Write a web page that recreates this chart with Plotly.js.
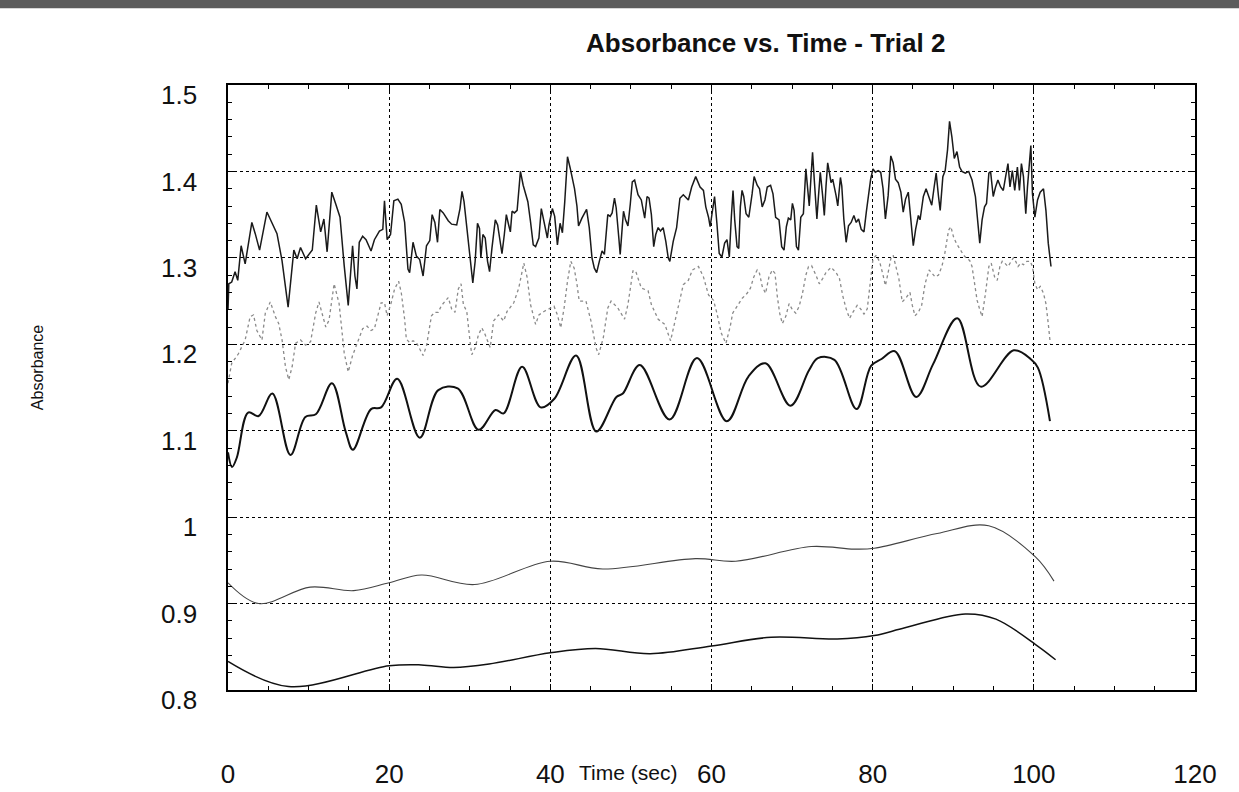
<!DOCTYPE html>
<html>
<head>
<meta charset="utf-8">
<script src="https://cdn.plot.ly/plotly-3.0.1.min.js"></script>
<style>html,body{margin:0;padding:0;background:#fff;}#chart{width:1239px;height:792px;}</style>
</head>
<body>
<div id="chart"></div>
<script>
// ---- Data ----
const chartTitle = "Absorbance vs. Time - Trial 2";
const xTitle = "Time (sec)";
const yTitle = "Absorbance";
const xTickVals = [0, 20, 40, 60, 80, 100, 120];
const xTickText = ["0", "20", "40", "60", "80", "100", "120"];
const yTickVals = [0.8, 0.9, 1.0, 1.1, 1.2, 1.3, 1.4, 1.5];
const yTickText = ["0.8", "0.9", "1", "1.1", "1.2", "1.3", "1.4", "1.5"];

// Series 1: top noisy solid trace
const s1x = [0,0.1,0.46,0.88,1.21,1.63,2.13,2.96,3.38,3.92,4.83,6.08,6.7,7.46,8.17,8.58,9.0,9.63,10.46,10.96,11.5,11.9,12.3,12.88,13.38,13.9,14.42,14.92,15.25,15.46,15.75,16.0,16.29,16.71,17.13,17.75,18.17,18.79,19.21,19.42,19.75,20.17,20.58,21.08,21.5,21.92,22.33,22.54,22.96,23.38,23.79,24.21,24.63,25.04,25.33,25.67,26.0,26.29,26.71,27.33,27.75,28.38,28.79,29.04,29.29,29.63,30.04,30.38,30.67,30.96,31.21,31.38,31.63,31.92,32.21,32.46,32.75,33.17,33.46,33.79,34.0,34.29,34.54,34.83,35.04,35.25,35.54,35.88,36.29,36.63,36.92,37.21,37.54,37.88,38.17,38.58,38.88,39.13,39.42,39.63,39.83,40.25,40.54,40.88,41.21,41.5,41.79,42.13,42.46,42.75,43.0,43.3,43.5,43.92,44.5,44.83,45.17,45.46,45.75,46.08,46.42,46.71,47.13,47.42,47.67,47.96,48.17,48.5,48.67,48.92,49.08,49.33,49.63,49.92,50.17,50.46,50.88,51.29,51.5,51.71,52.0,52.25,52.54,52.83,53.08,53.38,53.67,54.0,54.33,54.63,54.83,55.25,55.67,56.08,56.5,57.13,57.54,58.04,58.58,59.0,59.29,59.63,59.83,60.04,60.38,60.67,60.96,61.29,61.63,61.92,62.21,62.46,62.67,62.88,63.17,63.38,63.58,63.79,64.0,64.29,64.63,65.04,65.29,65.67,65.96,66.29,66.63,66.92,67.33,67.63,67.96,68.38,68.71,69.0,69.29,69.54,69.83,70.04,70.25,70.54,70.79,71.08,71.4,71.71,71.92,72.13,72.33,72.54,72.75,73.08,73.25,73.5,73.79,74.0,74.21,74.42,74.63,74.83,75.04,75.25,75.46,75.67,76.0,76.17,76.42,76.71,77.0,77.33,77.67,77.96,78.25,78.58,78.92,79.21,79.5,79.75,80.04,80.33,80.67,81.0,81.29,81.58,81.92,82.25,82.54,82.83,83.17,83.5,83.79,84.08,84.42,84.75,85.04,85.33,85.67,85.88,86.29,86.63,86.92,87.33,87.63,87.88,88.17,88.38,88.71,89.0,89.29,89.54,89.83,90.13,90.46,90.79,91.08,91.5,91.92,92.33,92.75,93.04,93.29,93.58,93.88,94.13,94.42,94.63,94.96,95.25,95.54,95.88,96.21,96.5,96.79,97.04,97.33,97.63,97.96,98.21,98.46,98.71,99.0,99.21,99.46,99.63,99.83,100.13,100.46,100.79,101.2,101.5,101.79,102.13];
const s1y = [1.24,1.27,1.272,1.284,1.274,1.314,1.293,1.341,1.328,1.309,1.353,1.328,1.297,1.243,1.309,1.299,1.312,1.299,1.309,1.361,1.33,1.345,1.307,1.376,1.362,1.347,1.291,1.245,1.287,1.314,1.279,1.264,1.318,1.325,1.321,1.308,1.321,1.331,1.333,1.366,1.321,1.327,1.366,1.368,1.362,1.341,1.287,1.283,1.318,1.302,1.298,1.279,1.314,1.32,1.35,1.341,1.318,1.356,1.352,1.343,1.339,1.338,1.357,1.377,1.365,1.334,1.296,1.271,1.296,1.34,1.334,1.3,1.327,1.323,1.296,1.284,1.311,1.344,1.338,1.315,1.305,1.327,1.35,1.338,1.33,1.354,1.352,1.355,1.4,1.384,1.373,1.365,1.342,1.315,1.313,1.323,1.357,1.346,1.332,1.323,1.338,1.357,1.348,1.315,1.34,1.329,1.365,1.417,1.404,1.392,1.38,1.36,1.337,1.346,1.356,1.335,1.3,1.288,1.283,1.296,1.308,1.304,1.35,1.348,1.352,1.369,1.358,1.323,1.304,1.335,1.354,1.344,1.337,1.362,1.388,1.39,1.373,1.367,1.358,1.346,1.371,1.369,1.35,1.313,1.327,1.335,1.331,1.335,1.319,1.3,1.296,1.319,1.335,1.369,1.373,1.367,1.382,1.394,1.382,1.378,1.359,1.347,1.336,1.351,1.371,1.34,1.305,1.301,1.317,1.321,1.301,1.347,1.378,1.344,1.313,1.311,1.359,1.378,1.371,1.351,1.347,1.374,1.394,1.384,1.38,1.359,1.367,1.382,1.384,1.374,1.347,1.344,1.313,1.309,1.336,1.346,1.344,1.363,1.355,1.313,1.309,1.347,1.351,1.403,1.38,1.36,1.391,1.422,1.391,1.345,1.368,1.399,1.372,1.349,1.383,1.41,1.399,1.387,1.391,1.383,1.372,1.36,1.393,1.383,1.345,1.318,1.337,1.341,1.349,1.341,1.345,1.333,1.33,1.353,1.372,1.391,1.403,1.399,1.401,1.399,1.38,1.345,1.372,1.418,1.41,1.391,1.387,1.376,1.353,1.368,1.376,1.345,1.314,1.333,1.349,1.344,1.371,1.38,1.371,1.361,1.382,1.398,1.371,1.355,1.394,1.401,1.425,1.458,1.44,1.415,1.423,1.405,1.4,1.398,1.4,1.39,1.371,1.34,1.317,1.344,1.359,1.363,1.398,1.4,1.371,1.382,1.39,1.382,1.378,1.394,1.409,1.382,1.401,1.378,1.405,1.378,1.409,1.394,1.351,1.382,1.413,1.43,1.374,1.347,1.367,1.376,1.38,1.355,1.317,1.29];

// Series 2: dotted grey noisy trace
const s2x = [0,0.46,1.29,2.13,2.75,3.17,3.58,4.21,4.63,5.25,5.88,6.29,6.71,7.13,7.54,7.96,8.38,9.0,9.63,10.25,10.88,11.29,12.13,12.54,13.17,13.79,14.42,14.92,15.46,16.08,16.71,17.25,17.75,18.17,18.58,19.0,19.42,19.75,20.25,20.67,21.17,21.5,21.92,22.13,22.54,22.96,23.38,23.79,24.21,24.63,24.92,25.25,25.67,26.08,26.5,26.92,27.33,27.75,28.17,28.58,28.92,29.21,29.63,30.04,30.25,30.67,31.08,31.5,31.92,32.54,32.96,33.58,34.21,34.63,35.46,36.08,36.71,37.13,37.54,38.17,38.58,39.21,40.04,40.46,40.88,41.29,41.71,42.13,42.54,42.96,43.3,43.58,44.42,45.04,45.67,46.0,46.58,47.13,47.54,48.38,49.21,49.63,50.25,50.58,51.29,52.13,52.54,53.38,54.21,54.92,55.67,56.5,57.13,57.63,58.38,59.0,59.63,60.25,60.67,61.21,61.79,62.33,62.63,63.17,63.79,64.42,64.83,65.25,65.67,65.96,66.29,66.71,67.13,67.54,67.88,68.17,68.46,68.79,69.21,69.63,70.04,70.46,70.88,71.29,71.71,72.04,72.42,72.96,73.38,73.79,74.21,74.83,75.46,75.88,76.29,76.71,77.13,77.54,78.08,78.5,78.92,79.33,79.75,80.04,80.46,80.88,81.29,81.58,81.92,82.25,82.54,82.83,83.25,83.67,84.08,84.63,84.92,85.25,85.67,86.08,86.5,87.0,87.75,88.17,88.58,88.88,89.13,89.42,89.71,90.04,90.38,90.67,90.96,91.29,91.71,92.04,92.33,92.63,92.96,93.29,93.58,94.0,94.42,94.71,95.13,95.46,95.79,96.08,96.38,96.79,97.13,97.46,97.75,98.04,98.38,98.71,99.13,99.54,99.83,100.13,100.46,100.79,101.2,101.5,101.79,102.04];
const s2y = [1.155,1.178,1.189,1.205,1.232,1.234,1.216,1.205,1.236,1.249,1.232,1.224,1.205,1.174,1.159,1.174,1.201,1.205,1.199,1.203,1.236,1.249,1.22,1.228,1.27,1.247,1.19,1.168,1.187,1.202,1.218,1.221,1.216,1.218,1.233,1.248,1.248,1.233,1.248,1.264,1.273,1.26,1.229,1.206,1.202,1.204,1.202,1.195,1.187,1.198,1.214,1.233,1.237,1.237,1.245,1.25,1.254,1.241,1.237,1.264,1.27,1.246,1.238,1.203,1.188,1.196,1.211,1.219,1.211,1.196,1.227,1.234,1.227,1.238,1.248,1.265,1.294,1.277,1.246,1.223,1.234,1.238,1.242,1.244,1.234,1.219,1.242,1.273,1.296,1.288,1.27,1.25,1.25,1.227,1.196,1.188,1.208,1.242,1.25,1.242,1.229,1.246,1.285,1.285,1.265,1.262,1.246,1.229,1.223,1.204,1.235,1.269,1.274,1.286,1.29,1.278,1.257,1.251,1.236,1.213,1.201,1.221,1.236,1.244,1.253,1.259,1.265,1.278,1.286,1.282,1.267,1.259,1.278,1.286,1.282,1.255,1.236,1.224,1.232,1.247,1.24,1.236,1.244,1.259,1.28,1.29,1.291,1.28,1.27,1.276,1.283,1.289,1.283,1.276,1.256,1.241,1.23,1.237,1.245,1.241,1.235,1.241,1.276,1.299,1.303,1.295,1.28,1.268,1.283,1.299,1.303,1.291,1.276,1.249,1.253,1.26,1.245,1.233,1.237,1.245,1.27,1.286,1.278,1.28,1.29,1.301,1.317,1.332,1.336,1.324,1.317,1.313,1.309,1.303,1.299,1.297,1.29,1.27,1.251,1.24,1.232,1.259,1.29,1.294,1.278,1.274,1.29,1.296,1.294,1.29,1.296,1.3,1.296,1.29,1.294,1.292,1.296,1.296,1.29,1.27,1.263,1.267,1.259,1.247,1.224,1.201];

// Series 3: oscillating solid trace
const s3x = [0,0.5,1.1,2.5,3.8,5.5,7.75,9.6,10.9,12.9,14.6,15.5,17.75,19.0,21.0,23.8,26.1,28.5,31.1,33.2,34.2,36.5,38.8,40.5,43.2,45.7,48.2,49.0,51.1,54.8,58.2,61.9,64.6,66.7,69.8,72.1,73.2,75.25,78.0,79.8,81.1,82.75,85.4,87.5,90.5,93.4,97.5,99.6,100.5,102.0];
const s3y = [1.075,1.058,1.069,1.121,1.117,1.143,1.072,1.116,1.119,1.155,1.099,1.078,1.125,1.127,1.16,1.092,1.147,1.149,1.101,1.124,1.12,1.174,1.127,1.137,1.187,1.099,1.139,1.143,1.176,1.113,1.184,1.111,1.163,1.178,1.129,1.17,1.184,1.182,1.125,1.175,1.183,1.192,1.139,1.177,1.23,1.151,1.193,1.183,1.173,1.111];

// Series 4: smooth trace near 0.9-1.0
const s4x = [0,3.8,10.2,15.6,20,24,30.6,40,46.5,58,63,72.4,77.7,80.2,88,94.4,100.2,102.5];
const s4y = [0.924,0.9,0.919,0.915,0.924,0.933,0.922,0.949,0.94,0.952,0.949,0.966,0.963,0.964,0.981,0.99,0.954,0.926];

// Series 5: smooth bottom trace
const s5x = [0,7.5,20,24,28,32.4,40,45.6,52.4,60,67.4,75.6,80.2,84,91.5,95.3,100.6,102.7];
const s5y = [0.833,0.804,0.828,0.829,0.826,0.83,0.843,0.848,0.842,0.851,0.861,0.859,0.863,0.872,0.888,0.882,0.85,0.835];

// ---- Chart ----
const FONT = "Liberation Sans, Arial, Helvetica, sans-serif";
const traces = [
  {x: s1x, y: s1y, mode: "lines", line: {color: "#1a1a1a", width: 1.5}, hoverinfo: "skip"},
  {x: s2x, y: s2y, mode: "lines", line: {color: "#8a8a8a", width: 1.3, dash: "dot"}, hoverinfo: "skip"},
  {x: s3x, y: s3y, mode: "lines", line: {color: "#111", width: 2, shape: "spline", smoothing: 1}, hoverinfo: "skip"},
  {x: s4x, y: s4y, mode: "lines", line: {color: "#444", width: 1.1, shape: "spline", smoothing: 1}, hoverinfo: "skip"},
  {x: s5x, y: s5y, mode: "lines", line: {color: "#111", width: 1.5, shape: "spline", smoothing: 1}, hoverinfo: "skip"}
];

const axisCommon = {
  showline: true, linecolor: "#000", linewidth: 1.6, mirror: "ticks",
  ticks: "inside", ticklen: 6, tickcolor: "#000", tickwidth: 1,
  showgrid: true, gridcolor: "#000", griddash: "dot", gridwidth: 1.2,
  zeroline: false, fixedrange: true
};

const layout = {
  width: 1239, height: 792,
  paper_bgcolor: "#fff", plot_bgcolor: "#fff",
  showlegend: false,
  margin: {l: 228, r: 44, t: 85, b: 102},
  title: {
    text: chartTitle, x: 0.618, xanchor: "center", y: 0.946, yanchor: "middle",
    font: {family: FONT, size: 26, color: "#111", weight: "bold"}
  },
  xaxis: Object.assign({}, axisCommon, {
    range: [0, 120], tickmode: "array", tickvals: xTickVals, ticktext: xTickText,
    tickfont: {family: FONT, size: 26, color: "#111"},
    ticklabelstandoff: 60,
    minor: {dtick: 5, tick0: 0, ticks: "inside", ticklen: 4, tickcolor: "#000", showgrid: false}
  }),
  yaxis: Object.assign({}, axisCommon, {
    range: [0.8, 1.5], tickmode: "array", tickvals: yTickVals, ticktext: yTickText,
    tickfont: {family: FONT, size: 26, color: "#111"},
    ticklabelstandoff: 24, ticklabelshift: 10,
    minor: {dtick: 0.02, tick0: 0.8, ticks: "inside", ticklen: 4, tickcolor: "#000", showgrid: false}
  }),
  annotations: [
    {text: xTitle, xref: "paper", yref: "paper", x: 0.414, y: -0.137, xanchor: "center", yanchor: "middle",
     showarrow: false, font: {family: FONT, size: 21, color: "#111"}},
    {text: yTitle, xref: "paper", yref: "paper", x: -0.1975, y: 0.532, xanchor: "center", yanchor: "middle",
     textangle: -90, showarrow: false, font: {family: FONT, size: 16, color: "#111"}}
  ],
  shapes: [
    {type: "rect", xref: "paper", yref: "paper", x0: -0.3, x1: 1.1, y0: 1.127, y1: 1.16,
     fillcolor: "#5c5c5c", line: {width: 0}, layer: "above"}
  ]
};

Plotly.newPlot("chart", traces, layout, {displayModeBar: false, staticPlot: true});
</script>
</body>
</html>
